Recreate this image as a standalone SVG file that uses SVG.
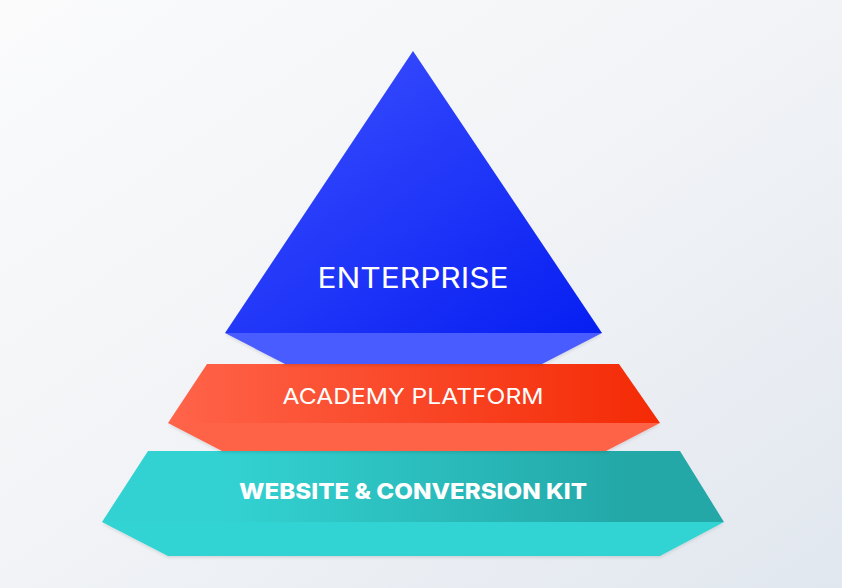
<svg xmlns="http://www.w3.org/2000/svg" width="842" height="588" viewBox="0 0 842 588">
  <defs>
    <linearGradient id="bg" x1="0" y1="0" x2="1" y2="1">
      <stop offset="0" stop-color="#fbfbfc"/>
      <stop offset="0.5" stop-color="#f1f3f6"/>
      <stop offset="1" stop-color="#e1e7ef"/>
    </linearGradient>
    <linearGradient id="gBlue" x1="0" y1="0" x2="1" y2="1">
      <stop offset="0" stop-color="#3f52ff"/>
      <stop offset="1" stop-color="#061ef2"/>
    </linearGradient>
    <linearGradient id="gOrange" x1="0" y1="0" x2="1" y2="0">
      <stop offset="0" stop-color="#ff644a"/>
      <stop offset="1" stop-color="#f42a05"/>
    </linearGradient>
    <linearGradient id="gTeal" x1="0" y1="0" x2="1" y2="0">
      <stop offset="0.2" stop-color="#33d2d2"/>
      <stop offset="0.85" stop-color="#23a7a7"/>
    </linearGradient>
    <filter id="sh" x="-10%" y="-10%" width="120%" height="130%">
      <feDropShadow dx="0" dy="1.5" stdDeviation="1.5" flood-color="#000" flood-opacity="0.12"/>
    </filter>
    <style>
      .lbl { fill: #ffffff; font-family: Inter, "Liberation Sans", sans-serif; text-anchor: middle; }
    </style>
  </defs>
  <rect width="842" height="588" fill="url(#bg)"/>

  <g id="website">
    <polygon points="102,522 724,522 660,556 168,556" fill="#33d3d3" filter="url(#sh)"/>
    <polygon points="148,451 680,451 724,522 102,522" fill="url(#gTeal)"/>
    <text class="lbl" x="413" y="499" font-size="22" font-weight="800" textLength="348" lengthAdjust="spacingAndGlyphs">WEBSITE &amp; CONVERSION KIT</text>
  </g>

  <g id="academy">
    <polygon points="168,423 660,423 606,451 222,451" fill="#ff6347" filter="url(#sh)"/>
    <polygon points="207,364 619,364 660,423 168,423" fill="url(#gOrange)"/>
    <text class="lbl" x="413" y="404" font-size="22" font-weight="400" textLength="261" lengthAdjust="spacingAndGlyphs">ACADEMY PLATFORM</text>
  </g>

  <g id="enterprise">
    <polygon points="225,333 602,333 542,364 285,364" fill="#4a5cff" filter="url(#sh)"/>
    <polygon points="413,51 602,333 225,333" fill="url(#gBlue)"/>
    <text class="lbl" x="413" y="288" font-size="28" font-weight="400" textLength="191" lengthAdjust="spacingAndGlyphs">ENTERPRISE</text>
  </g>

  <g id="connectors"/>
</svg>
